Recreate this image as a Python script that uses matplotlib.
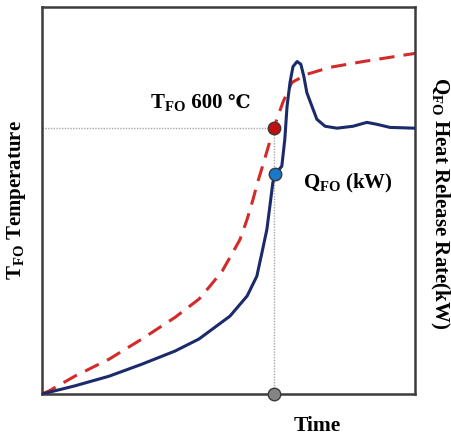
import matplotlib
matplotlib.use('Agg')
import matplotlib.pyplot as plt

plt.rcParams['font.family'] = ['Liberation Serif', 'DejaVu Serif']
plt.rcParams['mathtext.fontset'] = 'custom'
plt.rcParams['mathtext.rm'] = 'Liberation Serif'
plt.rcParams['mathtext.bf'] = 'Liberation Serif:bold'

# temperature of the fire (dashed) and heat release rate (solid), time in %
t_temp = [0, 1.9, 8.8, 18.0, 26.8, 35.7, 42.1, 45.0, 48.3, 50.9, 53.1, 55.0, 56.6, 57.9,
          59.2, 62.2, 64.6, 67.0, 71.0, 77.2, 86.1, 100]
temp = [0, 0.8, 4.6, 9.0, 14.2, 19.8, 24.5, 27.8, 31.7, 36.1, 39.9, 45.1, 50.3, 54.9,
        59.0, 68.8, 75.3, 80.4, 82.5, 84.3, 85.8, 87.9]

t_hrr = [0, 8.8, 18.0, 26.8, 35.7, 42.1, 50.4, 55.0, 57.6, 59.0, 60.3, 61.1, 61.9, 62.5,
         64.3, 65.1, 65.7, 66.5, 67.3, 68.4, 69.4, 70.2, 71.0, 72.4, 73.7, 75.9, 79.1,
         83.4, 87.1, 89.8, 93.3, 100]
hrr = [0, 2.1, 4.6, 7.7, 11.1, 14.2, 20.1, 25.3, 30.4, 36.6, 42.5, 48.5, 54.6, 56.7,
       58.8, 65.7, 74.2, 80.4, 84.5, 85.8, 85.1, 82.0, 77.8, 74.2, 70.9, 69.1, 68.6,
       69.1, 70.1, 69.6, 68.8, 68.6]

t_fo = 62.3      # flashover time
temp_fo = 68.7   # 600 C level
hrr_fo = 56.7

fig = plt.figure(figsize=(4.51, 4.39), dpi=100)
ax = fig.add_axes([0.0931, 0.1002, 0.827, 0.8827])

ax.plot([0, t_fo], [temp_fo, temp_fo], color='#a8a8a8', lw=1, ls=(0, (1, 1)), zorder=1)
ax.plot([t_fo, t_fo], [0, temp_fo], color='#a8a8a8', lw=1, ls=(0, (1, 1)), zorder=1)

ax.plot(t_temp, temp, color='#d42a2a', lw=2.2, ls=(0, (5, 3)), zorder=2)
ax.plot(t_hrr, hrr, color='#1b2a6b', lw=2.2, solid_joinstyle='round', zorder=3)

ax.plot(t_fo, temp_fo, 'o', ms=9, mfc='#c40d0d', mec='#3a3a3a', mew=1, zorder=5)
ax.plot(t_fo + 0.2, hrr_fo, 'o', ms=9, mfc='#1a78c8', mec='#3a3a3a', mew=1, zorder=5)
ax.plot(t_fo, 0, 'o', ms=9, mfc='#858585', mec='#3a3a3a', mew=1, zorder=5, clip_on=False)

ax.set_xlim(0, 100)
ax.set_ylim(0, 100)
ax.set_xticks([])
ax.set_yticks([])
for s in ax.spines.values():
    s.set_color('#3c3c3c')
    s.set_linewidth(1.8)

# "T_FO 600 ℃" built from pieces on one baseline
renderer = fig.canvas.get_renderer()
x_pos = 29.0
for piece, size in [(r'$\mathbf{T_{FO}}$', 15), (' 600 ', 15), ('℃', 13.5)]:
    t = ax.text(x_pos, 74.0, piece, fontsize=size, fontweight='bold', va='baseline')
    bb = t.get_window_extent(renderer)
    x_pos = ax.transData.inverted().transform((bb.x1, 0))[0]

ax.text(70.0, 53.4, r'$\mathbf{Q_{FO}}$ (kW)', fontsize=15, fontweight='bold', va='baseline')

fig.text(317 / 451, 1 - 426 / 439, 'Time', fontsize=15.5, fontweight='bold', ha='center', va='center')
fig.text(17 / 451, 1 - 200 / 439, r'$\mathbf{T_{FO}}$ Temperature', fontsize=15, fontweight='bold',
         rotation=90, ha='center', va='center')
fig.text(440 / 451, 1 - 203 / 439, r'$\mathbf{Q_{FO}}$ Heat Release Rate(kW)', fontsize=15, fontweight='bold',
         rotation=270, ha='center', va='center')

fig.savefig('out.png', dpi=100)
